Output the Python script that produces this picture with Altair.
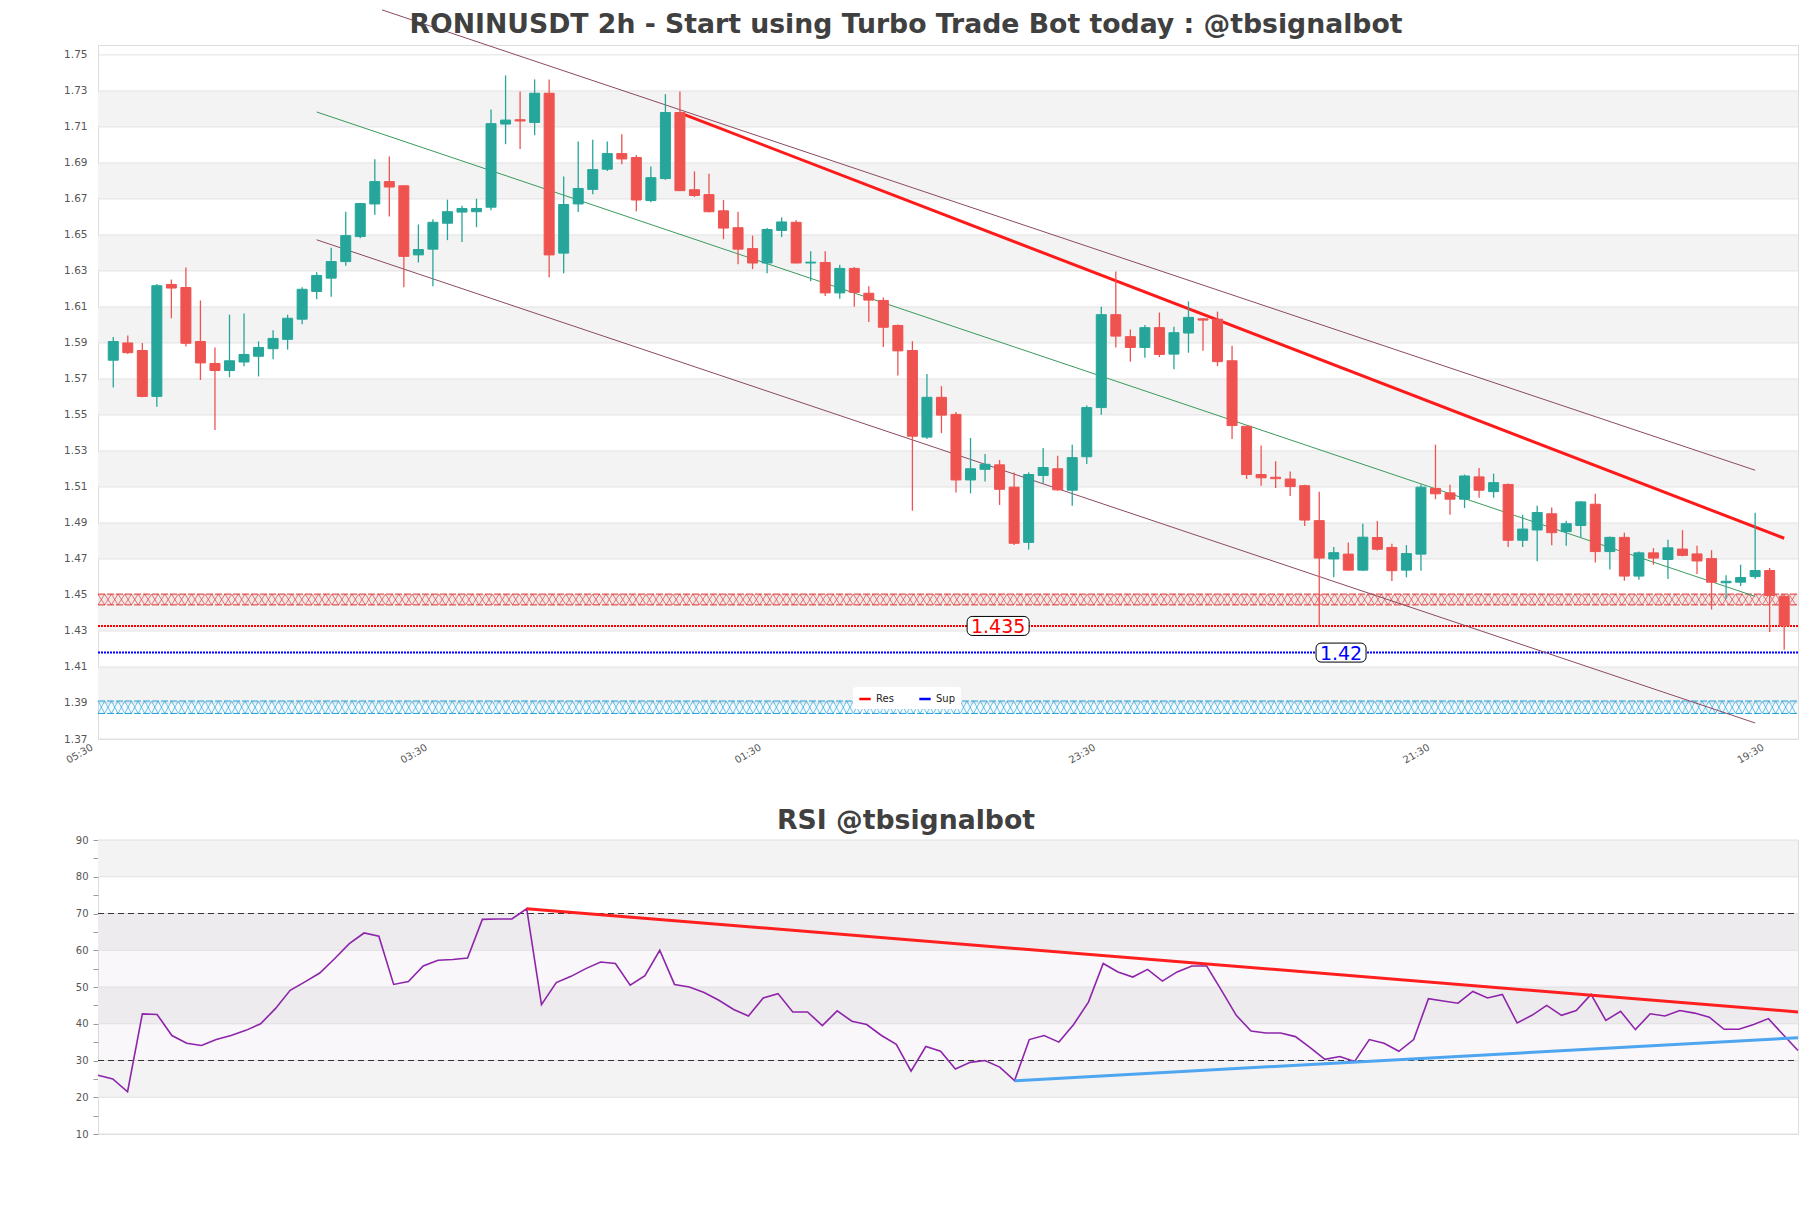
import json
import altair as alt
import numpy as np
import pandas as pd

TITLE_MAIN = "RONINUSDT 2h - Start using Turbo Trade Bot today : @tbsignalbot"
TITLE_RSI = "RSI @tbsignalbot"

# ---------------- candle data (2h candles) ----------------
opens = [1.5804, 1.5900, 1.5858, 1.5603, 1.6225, 1.6208, 1.5908, 1.5786, 1.5747, 1.5794,
         1.5826, 1.5868, 1.5920, 1.6032, 1.6186, 1.6260, 1.6352, 1.6491, 1.6672, 1.6796,
         1.6773, 1.6389, 1.6421, 1.6565, 1.6627, 1.6629, 1.6654, 1.7116, 1.7140, 1.7125,
         1.7287, 1.6399, 1.6672, 1.6753, 1.6865, 1.6952, 1.6930, 1.6691, 1.6813, 1.7180,
         1.6751, 1.6724, 1.6634, 1.6540, 1.6424, 1.6344, 1.6525, 1.6570, 1.6344, 1.6347,
         1.6178, 1.6314, 1.6176, 1.6136, 1.5997, 1.5858, 1.5377, 1.5598, 1.5503, 1.5139,
         1.5198, 1.5223, 1.5099, 1.4792, 1.5164, 1.5201, 1.5082, 1.5268, 1.5541, 1.6057,
         1.5935, 1.5875, 1.5985, 1.5838, 1.5955, 1.6034, 1.6032, 1.5801, 1.5437, 1.5169,
         1.5154, 1.5144, 1.5107, 1.4913, 1.4700, 1.4727, 1.4638, 1.4819, 1.4764, 1.4638,
         1.4727, 1.5092, 1.5067, 1.5032, 1.5156, 1.5074, 1.5114, 1.4804, 1.4861, 1.4951,
         1.4852, 1.4886, 1.5004, 1.4741, 1.4820, 1.4605, 1.4734, 1.4697, 1.4755, 1.4728,
         1.4702, 1.4568, 1.4571, 1.4602, 1.4636, 1.4492]
highs = [1.5933, 1.5942, 1.5900, 1.6228, 1.6252, 1.6319, 1.6136, 1.5875, 1.6057, 1.6064,
         1.5908, 1.5970, 1.6057, 1.6210, 1.6292, 1.6429, 1.6629, 1.6676, 1.6920, 1.6935,
         1.6775, 1.6558, 1.6587, 1.6696, 1.6662, 1.6701, 1.7197, 1.7386, 1.7297, 1.7364,
         1.7364, 1.6825, 1.7019, 1.7029, 1.7019, 1.7059, 1.6944, 1.6880, 1.7282, 1.7297,
         1.6853, 1.6840, 1.6694, 1.6629, 1.6496, 1.6538, 1.6597, 1.6582, 1.6409, 1.6409,
         1.6334, 1.6322, 1.6215, 1.6153, 1.6002, 1.5910, 1.5727, 1.5660, 1.5516, 1.5372,
         1.5283, 1.5250, 1.5181, 1.5181, 1.5317, 1.5273, 1.5335, 1.5553, 1.6101, 1.6297,
         1.5975, 1.6000, 1.6069, 1.5990, 1.6131, 1.6037, 1.6074, 1.5885, 1.5440, 1.5330,
         1.5243, 1.5186, 1.5112, 1.5074, 1.4767, 1.4792, 1.4896, 1.4911, 1.4784, 1.4777,
         1.5114, 1.5335, 1.5112, 1.5169, 1.5206, 1.5174, 1.5119, 1.4945, 1.4995, 1.4986,
         1.4912, 1.5020, 1.5062, 1.4825, 1.4846, 1.4741, 1.4760, 1.4807, 1.4860, 1.4773,
         1.4749, 1.4610, 1.4668, 1.4957, 1.4650, 1.4505]
lows = [1.5652, 1.5838, 1.5598, 1.5546, 1.6037, 1.5880, 1.5694, 1.5417, 1.5709, 1.5771,
        1.5714, 1.5809, 1.5863, 1.6004, 1.6143, 1.6156, 1.6329, 1.6481, 1.6612, 1.6602,
        1.6210, 1.6347, 1.6215, 1.6471, 1.6461, 1.6543, 1.6637, 1.7004, 1.6977, 1.7054,
        1.6265, 1.6287, 1.6627, 1.6726, 1.6855, 1.6892, 1.6632, 1.6682, 1.6806, 1.6744,
        1.6711, 1.6624, 1.6476, 1.6337, 1.6310, 1.6287, 1.6488, 1.6342, 1.6243, 1.6161,
        1.6146, 1.6101, 1.6017, 1.5878, 1.5719, 1.4968, 1.5367, 1.5399, 1.5069, 1.5064,
        1.5131, 1.5000, 1.4777, 1.4752, 1.5119, 1.5079, 1.4995, 1.5228, 1.5501, 1.5875,
        1.5796, 1.5818, 1.5821, 1.5754, 1.5846, 1.5856, 1.5771, 1.5367, 1.5144, 1.5107,
        1.5094, 1.5050, 1.4883, 1.4325, 1.4598, 1.4636, 1.4633, 1.4747, 1.4578, 1.4598,
        1.4635, 1.5032, 1.4945, 1.4983, 1.5040, 1.5040, 1.4767, 1.4767, 1.4687, 1.4776,
        1.4773, 1.4820, 1.4681, 1.4642, 1.4579, 1.4584, 1.4668, 1.4589, 1.4715, 1.4616,
        1.4419, 1.4479, 1.4550, 1.4589, 1.4295, 1.4196]
closes = [1.5908, 1.5846, 1.5603, 1.6218, 1.6205, 1.5898, 1.5789, 1.5747, 1.5801, 1.5836,
          1.5875, 1.5925, 1.6037, 1.6198, 1.6275, 1.6352, 1.6496, 1.6674, 1.6796, 1.6766,
          1.6381, 1.6419, 1.6570, 1.6629, 1.6647, 1.6647, 1.7118, 1.7138, 1.7133, 1.7287,
          1.6389, 1.6669, 1.6758, 1.6863, 1.6952, 1.6922, 1.6694, 1.6818, 1.7180, 1.6746,
          1.6719, 1.6629, 1.6538, 1.6421, 1.6344, 1.6530, 1.6572, 1.6344, 1.6349, 1.6178,
          1.6314, 1.6181, 1.6138, 1.5987, 1.5856, 1.5382, 1.5598, 1.5499, 1.5139, 1.5201,
          1.5226, 1.5087, 1.4787, 1.5169, 1.5208, 1.5084, 1.5263, 1.5541, 1.6057, 1.5938,
          1.5875, 1.5985, 1.5836, 1.5957, 1.6042, 1.6027, 1.5796, 1.5441, 1.5169, 1.5151,
          1.5146, 1.5102, 1.4916, 1.4705, 1.4735, 1.4638, 1.4821, 1.4754, 1.4635, 1.4730,
          1.5099, 1.5062, 1.5032, 1.5161, 1.5082, 1.5124, 1.4804, 1.4866, 1.4958, 1.4846,
          1.4896, 1.5017, 1.4741, 1.4820, 1.4605, 1.4734, 1.4705, 1.4762, 1.4720, 1.4689,
          1.4571, 1.4576, 1.4597, 1.4636, 1.4497, 1.4329]

rsi_values = [26.0, 25.0, 21.5, 42.7, 42.5, 36.8, 34.7, 34.1, 35.7, 36.8,
              38.2, 40.0, 44.1, 49.1, 51.4, 53.8, 57.7, 61.8, 64.7, 63.8,
              50.7, 51.5, 55.7, 57.3, 57.5, 57.9, 68.4, 68.5, 68.5, 71.3,
              45.2, 51.2, 52.9, 55.0, 56.8, 56.4, 50.5, 53.1, 60.0, 50.7,
              50.0, 48.5, 46.4, 43.9, 42.1, 47.0, 48.2, 43.2, 43.2, 39.5,
              43.5, 40.7, 39.8, 36.8, 34.4, 27.1, 33.8, 32.5, 27.7, 29.5,
              30.0, 28.2, 24.5, 35.7, 36.8, 35.0, 39.8, 45.9, 56.4, 54.1,
              52.7, 54.8, 51.6, 54.1, 55.7, 55.7, 49.1, 42.3, 38.0, 37.5,
              37.5, 36.5, 33.5, 30.3, 31.1, 29.7, 35.7, 34.7, 32.5, 35.7,
              46.8, 46.2, 45.6, 48.8, 47.0, 48.0, 40.2, 42.3, 45.0, 42.3,
              43.6, 48.0, 40.9, 43.4, 38.4, 42.7, 42.1, 43.6, 42.9, 41.8,
              38.5, 38.5, 39.8, 41.4, 37.0, 32.7]

# axis ticks / labels
time_labels = ["05:30", "03:30", "01:30", "23:30", "21:30", "19:30"]
time_tick_pos = [-1, 22, 45, 68, 91, 114]
price_ticks = [1.37, 1.39, 1.41, 1.43, 1.45, 1.47, 1.49, 1.51, 1.53, 1.55,
               1.57, 1.59, 1.61, 1.63, 1.65, 1.67, 1.69, 1.71, 1.73, 1.75]
band_lo = [1.39, 1.43, 1.47, 1.51, 1.55, 1.59, 1.63, 1.67, 1.71]
band_hi = [1.41, 1.45, 1.49, 1.53, 1.57, 1.61, 1.65, 1.69, 1.73]

# zones (hatched)
zone_lo = [1.4445, 1.3842]
zone_hi = [1.4505, 1.3911]
zone_color = ["#e0302d", "#1e9fd8"]

# horizontal levels
level_names = ["Res", "Sup"]
level_values = [1.4328, 1.4180]
level_colors = ["#ff0000", "#0000ff"]
level_text = ["1.435", "1.42"]
level_text_pos = [60.9, 84.5]

# trend lines (main)
chan_x0 = [18.5, 14, 14]
chan_y0 = [1.775, 1.6473, 1.7183]
chan_x1 = [113, 113, 113]
chan_y1 = [1.5193, 1.3789, 1.4492]
chan_color = ["#8c4a60", "#8c4a60", "#3a9a5c"]
res_x0, res_y0, res_x1, res_y1 = [39], [1.7178], [115], [1.4815]

# RSI decorations
rsi_ticks = [10, 15, 20, 25, 30, 35, 40, 45, 50, 55, 60, 65, 70, 75, 80, 85, 90]
rsi_grid = [10, 20, 30, 40, 50, 60, 70, 80, 90]
rsi_band_lo = [20, 40, 60, 80]
rsi_band_hi = [30, 50, 70, 90]
rsi_levels = [30, 70]
rsi_tr_x0 = [29, 62]
rsi_tr_y0 = [71.3, 24.5]
rsi_tr_x1 = [115, 115]
rsi_tr_y1 = [43.2, 36.2]
rsi_tr_color = ["#ff1f1f", "#4ea5f0"]

# ---------------- layout ----------------
W = 1700
H_MAIN = 694
H_RSI = 294
FONT = "DejaVu Sans"
X_DOMAIN = [-1.05, 115.95]
Y_DOMAIN = [1.37, 1.7555]
UP, DOWN = "#26a69a", "#ef5350"

n = len(opens)
candles = pd.DataFrame({"i": list(range(n)), "open": opens, "high": highs,
                        "low": lows, "close": closes})
candles["col"] = np.where(candles["close"] >= candles["open"], UP, DOWN)
up_c = candles[candles["close"] >= candles["open"]]
down_c = candles[candles["close"] < candles["open"]]

xs = alt.Scale(domain=X_DOMAIN, nice=False, zero=False, padding=0)
ys = alt.Scale(domain=Y_DOMAIN, nice=False, zero=False, padding=0)

label_expr = json.dumps(time_labels) + "[round((datum.value - (%s)) / 23)]" % time_tick_pos[0]
x_axis = alt.Axis(values=time_tick_pos, labelExpr=label_expr, labelAngle=-30,
                  labelAlign="right", labelBaseline="top", tickSize=0, domain=False,
                  grid=False, labelFontSize=10, labelColor="#555555", labelPadding=3,
                  labelOffset=-9.5, labelFlush=False, labelOverlap=False,
                  labelBound=False, title=None)
y_axis = alt.Axis(values=price_ticks, format=".2f", tickSize=0, domain=False, grid=False,
                  labelFontSize=10.5, labelColor="#555555", labelPadding=11,
                  labelOverlap=False, labelFlush=False, labelBound=False, title=None,
                  minExtent=35, maxExtent=35)


def X(field):
    return alt.X(field, scale=xs, axis=x_axis)


def Y(field):
    return alt.Y(field, scale=ys, axis=y_axis)


bands = pd.DataFrame({"lo": band_lo, "hi": band_hi})
band_layer = alt.Chart(bands).mark_rect(color="#f3f3f3").encode(
    x=alt.value(0), x2=alt.value(W), y=Y("lo:Q"), y2="hi:Q")

grid_layer = alt.Chart(pd.DataFrame({"p": price_ticks})).mark_rule(
    color="#e2e2e2", strokeWidth=1).encode(x=alt.value(0), x2=alt.value(W), y=Y("p:Q"))

zones = pd.DataFrame({"lo": zone_lo, "hi": zone_hi, "col": zone_color})
zone_fill = alt.Chart(zones).mark_rect(opacity=0.05).encode(
    x=alt.value(0), x2=alt.value(W), y=Y("lo:Q"), y2="hi:Q",
    color=alt.Color("col:N", scale=None))

edges = pd.DataFrame({"v": zone_lo + zone_hi, "col": zone_color + zone_color})
zone_edges = alt.Chart(edges).mark_rule(strokeWidth=1, strokeDash=[7, 2]).encode(
    x=alt.value(0), x2=alt.value(W), y=Y("v:Q"), color=alt.Color("col:N", scale=None))

# cross-hatch decoration inside the zones (two opposite zig-zags per zone)
hatch_rows = []
steps = np.arange(X_DOMAIN[0], X_DOMAIN[1] + 0.001, 0.46)
for z in range(len(zone_lo)):
    for ph in range(2):
        for j, xv in enumerate(steps):
            yv = zone_lo[z] if (j + ph) % 2 == 0 else zone_hi[z]
            hatch_rows.append({"key": "%d-%d" % (z, ph), "j": j, "x": float(xv),
                               "y": yv, "col": zone_color[z]})
hatch = pd.DataFrame(hatch_rows)
hatch_layer = alt.Chart(hatch).mark_line(strokeWidth=0.7, opacity=0.9).encode(
    x=X("x:Q"), y=Y("y:Q"), detail="key:N", order="j:Q",
    color=alt.Color("col:N", scale=None))

levels = pd.DataFrame({"name": level_names, "v": level_values, "col": level_colors})
level_layer = alt.Chart(levels).mark_rule(strokeWidth=2, strokeDash=[2, 1]).encode(
    x=alt.value(0), x2=alt.value(W), y=Y("v:Q"), color=alt.Color("col:N", scale=None))
# solid zero-length rules that only carry the Res / Sup legend
legend_layer = alt.Chart(levels).mark_rule(strokeWidth=2).encode(
    x=alt.value(0), x2=alt.value(0), y=Y("v:Q"),
    stroke=alt.Stroke("name:N",
                      scale=alt.Scale(domain=level_names, range=level_colors),
                      legend=alt.Legend(orient="none", legendX=755, legendY=642,
                                        direction="horizontal", title=None,
                                        fillColor="white", padding=5, cornerRadius=3,
                                        symbolType="stroke", symbolStrokeWidth=2.5,
                                        symbolSize=130, labelFontSize=10,
                                        columnPadding=20, labelColor="#222222")))

chan = pd.DataFrame({"x0": chan_x0, "y0": chan_y0, "x1": chan_x1, "y1": chan_y1,
                     "col": chan_color})
chan_layer = alt.Chart(chan).mark_rule(strokeWidth=1).encode(
    x=X("x0:Q"), x2="x1:Q", y=Y("y0:Q"), y2="y1:Q",
    color=alt.Color("col:N", scale=None))

res = pd.DataFrame({"x0": res_x0, "y0": res_y0, "x1": res_x1, "y1": res_y1})
res_layer = alt.Chart(res).mark_rule(strokeWidth=3, color="#ff1a1a").encode(
    x=X("x0:Q"), x2="x1:Q", y=Y("y0:Q"), y2="y1:Q")

wick_layer = alt.Chart(candles).mark_rule(strokeWidth=1.3).encode(
    x=X("i:Q"), y=Y("low:Q"), y2="high:Q", color=alt.Color("col:N", scale=None))
up_layer = alt.Chart(up_c).mark_bar(size=10, color=UP, stroke=UP, strokeWidth=1).encode(
    x=X("i:Q"), y=Y("open:Q"), y2="close:Q")
down_layer = alt.Chart(down_c).mark_bar(size=10, color=DOWN, stroke=DOWN,
                                        strokeWidth=1).encode(
    x=X("i:Q"), y=Y("open:Q"), y2="close:Q")

labels = pd.DataFrame({"x": level_text_pos, "v": level_values, "t": level_text,
                       "col": level_colors})
box_a = alt.Chart(labels.iloc[[0]]).mark_rect(
    width=62, height=19, cornerRadius=5, fill="white", stroke="black",
    strokeWidth=1).encode(x=X("x:Q"), y=Y("v:Q"))
box_b = alt.Chart(labels.iloc[[1]]).mark_rect(
    width=50, height=19, cornerRadius=5, fill="white", stroke="black",
    strokeWidth=1).encode(x=X("x:Q"), y=Y("v:Q"))
text_layer = alt.Chart(labels).mark_text(fontSize=19, font=FONT, baseline="middle",
                                         align="center", dy=1).encode(
    x=X("x:Q"), y=Y("v:Q"), text="t:N", color=alt.Color("col:N", scale=None))

title_style = dict(fontSize=26.7, fontWeight="bold", color="#404040", font=FONT,
                   anchor="middle", frame="group", dx=-42)

main = alt.layer(band_layer, grid_layer, zone_fill, hatch_layer, zone_edges,
                 level_layer, legend_layer, chan_layer, res_layer, wick_layer,
                 up_layer, down_layer, box_a, box_b, text_layer).properties(
    width=W, height=H_MAIN,
    title=alt.TitleParams(TITLE_MAIN, offset=-29, **title_style))

# ---------------- RSI panel ----------------
rx = alt.Scale(domain=[0, n - 1], nice=False, zero=False, padding=0)
ry = alt.Scale(domain=[10, 90], nice=False, zero=False, padding=0)
rsi_axis = alt.Axis(values=rsi_ticks, labelExpr="datum.value % 10 == 0 ? datum.label : ''",
                    tickSize=5, tickColor="#9a9a9a", domain=False, grid=False,
                    labelFontSize=10, labelColor="#555555", labelPadding=5,
                    labelOverlap=False, labelFlush=False, labelBound=False, title=None,
                    minExtent=35, maxExtent=35)


def RY(field):
    return alt.Y(field, scale=ry, axis=rsi_axis)


def RX(field):
    return alt.X(field, scale=rx, axis=None)


rsi_df = pd.DataFrame({"k": list(range(n)), "rsi": rsi_values})

r_band = alt.Chart(pd.DataFrame({"lo": rsi_band_lo, "hi": rsi_band_hi})).mark_rect(
    color="#f3f3f3").encode(x=alt.value(0), x2=alt.value(W), y=RY("lo:Q"), y2="hi:Q")
r_hatch = alt.Chart(pd.DataFrame({"lo": [30], "hi": [70]})).mark_rect(
    color="#9b6fae", opacity=0.06).encode(x=alt.value(0), x2=alt.value(W),
                                          y=RY("lo:Q"), y2="hi:Q")
r_grid = alt.Chart(pd.DataFrame({"g": rsi_grid})).mark_rule(
    color="#e0e0e0", strokeWidth=1).encode(x=alt.value(0), x2=alt.value(W), y=RY("g:Q"))
r_levels = alt.Chart(pd.DataFrame({"g": rsi_levels})).mark_rule(
    color="#333333", strokeWidth=1.2, strokeDash=[6, 4]).encode(
    x=alt.value(0), x2=alt.value(W), y=RY("g:Q"))
r_line = alt.Chart(rsi_df).mark_line(color="#8e24aa", strokeWidth=1.6).encode(
    x=RX("k:Q"), y=RY("rsi:Q"))
r_tr = alt.Chart(pd.DataFrame({"x0": rsi_tr_x0, "y0": rsi_tr_y0, "x1": rsi_tr_x1,
                               "y1": rsi_tr_y1, "col": rsi_tr_color})).mark_rule(
    strokeWidth=3).encode(
    x=RX("x0:Q"), x2="x1:Q", y=RY("y0:Q"), y2="y1:Q",
    color=alt.Color("col:N", scale=None))

rsi_chart = alt.layer(r_band, r_hatch, r_grid, r_levels, r_line, r_tr).properties(
    width=W, height=H_RSI, title=alt.TitleParams(TITLE_RSI, offset=0, **title_style))

chart = alt.vconcat(main, rsi_chart, spacing=41).properties(
    padding={"left": 54, "top": 0, "right": 0, "bottom": 5}
).configure_view(stroke="#dcdcdc", strokeWidth=1).configure(font=FONT)

chart.save("out.html", embed_options={"renderer": "svg", "actions": False})
